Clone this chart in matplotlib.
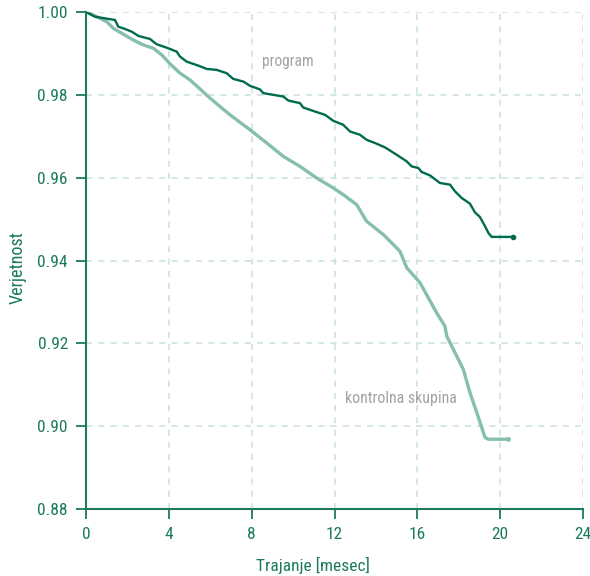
import matplotlib
matplotlib.use("Agg")
import matplotlib.pyplot as plt
from matplotlib import font_manager

# Data: survival curves
program_t = [0.0, 0.43, 1.40, 1.56, 1.88, 2.21, 2.53, 3.09, 3.41, 3.97, 4.38, 4.54, 4.86,
             5.42, 5.83, 6.31, 6.79, 7.11, 7.60, 7.92, 8.40, 8.56, 9.53, 9.77, 10.33,
             10.49, 11.14, 11.54, 11.94, 12.42, 12.75, 13.23, 13.55, 14.04, 14.44, 15.00,
             15.49, 15.73, 16.05, 16.21, 16.61, 17.09, 17.58, 17.82, 18.14, 18.54, 18.78,
             19.02, 19.27, 19.43, 19.59, 20.63]
program_s = [1.0, 0.99887, 0.99807, 0.99646, 0.9959, 0.99525, 0.99422, 0.99349, 0.99222,
             0.99125, 0.99043, 0.98923, 0.98802, 0.98706, 0.98626, 0.98602, 0.98523,
             0.98385, 0.9832, 0.98217, 0.98132, 0.98041, 0.97959, 0.97862, 0.978, 0.97694,
             0.97583, 0.97518, 0.97373, 0.97277, 0.97115, 0.97036, 0.96915, 0.96819,
             0.9673, 0.96554, 0.96392, 0.96272, 0.96233, 0.96137, 0.96055, 0.95872,
             0.95831, 0.95669, 0.9551, 0.95373, 0.95163, 0.95052, 0.94826, 0.94667,
             0.9457, 0.9457]

control_t = [0.0, 0.35, 1.00, 1.32, 1.72, 2.28, 2.77, 3.25, 3.66, 4.06, 4.54, 5.02, 5.50,
             5.99, 6.47, 6.95, 7.92, 8.73, 9.53, 10.33, 11.14, 11.94, 12.42, 13.07, 13.55,
             14.36, 15.16, 15.49, 16.13, 16.53, 16.93, 17.33, 17.42, 17.90, 18.22, 18.54,
             18.87, 19.27, 19.43, 20.39]
control_s = [1.0, 0.99928, 0.99766, 0.99607, 0.99487, 0.99325, 0.99205, 0.99125, 0.98964,
             0.98747, 0.98523, 0.98361, 0.98144, 0.9792, 0.97718, 0.97518, 0.97156,
             0.96836, 0.96513, 0.96272, 0.95992, 0.95751, 0.9559, 0.95349, 0.94946,
             0.94626, 0.94223, 0.93823, 0.93462, 0.931, 0.92739, 0.92416, 0.92175,
             0.91693, 0.91372, 0.90811, 0.90329, 0.89726, 0.89685, 0.89685]

x_ticks = [0, 4, 8, 12, 16, 20, 24]
y_ticks = [0.88, 0.90, 0.92, 0.94, 0.96, 0.98, 1.00]
y_ticklabels = ["0.88", "0.90", "0.92", "0.94", "0.96", "0.98", "1.00"]

available = {f.name for f in font_manager.fontManager.ttflist}
FONT = [f for f in ["Roboto Condensed", "Liberation Sans Narrow", "Roboto", "DejaVu Sans"]
        if f in available]
plt.rcParams['font.family'] = FONT

axis_col = "#1b7a5e"
dark = "#006b4f"
light = "#86bfad"
grid_col = "#c8e2d8"
ann_col = "#a3a3a3"

W, H = 590, 576
fig = plt.figure(figsize=(W/100, H/100), dpi=100)
ax = fig.add_axes([86/W, 1-509/H, (583-86)/W, (509-12)/H])

ax.plot(control_t, control_s, color=light, lw=2.4, zorder=3, solid_joinstyle="miter")
ax.plot(program_t, program_s, color=dark, lw=1.7, zorder=4, solid_joinstyle="miter")
ax.plot([program_t[-1]], [program_s[-1]], "o", color=dark, ms=3, zorder=5)
ax.plot([control_t[-1]], [control_s[-1]], "o", color=light, ms=2.5, zorder=5)

ax.set_xlim(0, 24)
ax.set_ylim(0.88, 1.00)
ax.set_xticks(x_ticks)
ax.set_yticks(y_ticks)
ax.set_yticklabels(y_ticklabels)

ax.grid(True, color=grid_col, lw=1.1, linestyle=(0, (4, 4)))
ax.set_axisbelow(True)

for s in ["top", "right"]:
    ax.spines[s].set_visible(False)
for s in ["left", "bottom"]:
    ax.spines[s].set_color(axis_col)
    ax.spines[s].set_linewidth(1.5)

ax.tick_params(axis="both", colors=axis_col, length=7, width=1.3, labelsize=12.5,
               direction="out")
ax.tick_params(axis="y", pad=6)
ax.tick_params(axis="x", pad=6)

fig.text(312.5/W, 1-565/H, "Trajanje [mesec]", color=axis_col, fontsize=12.5,
         ha="center", va="center")
fig.text(17.5/W, 1-268/H, "Verjetnost", color=axis_col, fontsize=13,
         ha="center", va="center", rotation=90)

ax.text(9.75, 0.98795, "program", color=ann_col, fontsize=11.2, ha="center", va="center")
ax.text(15.21, 0.90673, "kontrolna skupina", color=ann_col, fontsize=11.5, ha="center", va="center")

fig.savefig("out.png", dpi=100)
